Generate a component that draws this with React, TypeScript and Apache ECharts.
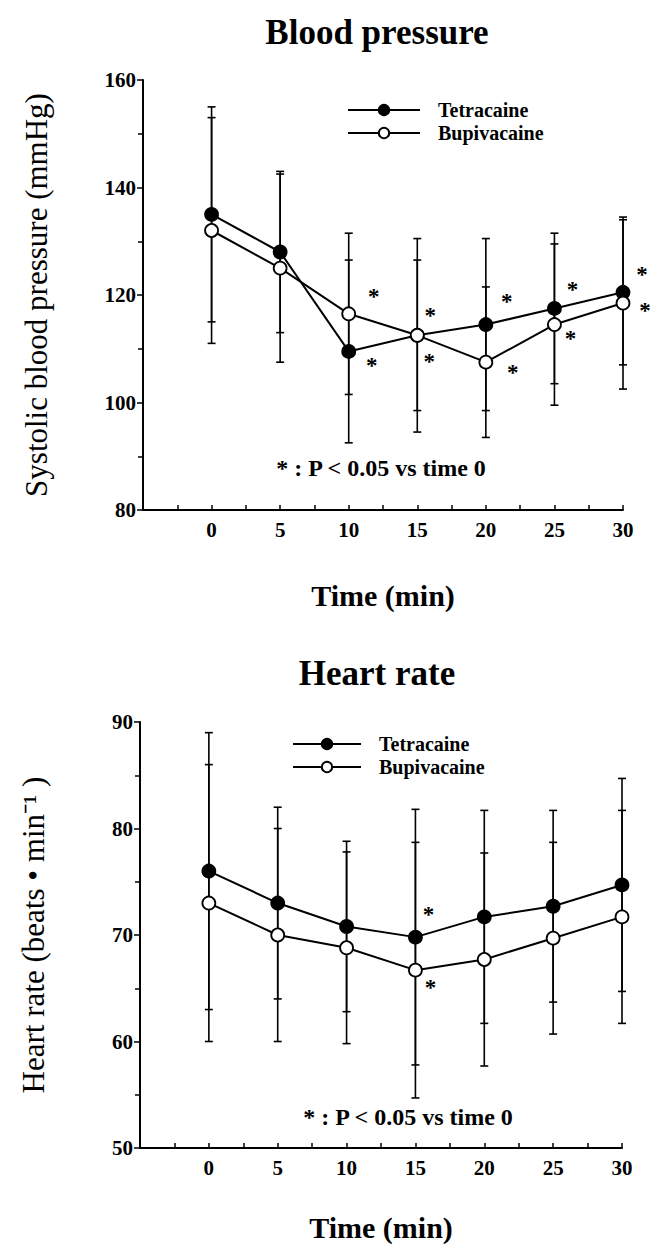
import React, { useEffect, useRef } from "react";
import * as echarts from "echarts";

const times = [0, 5, 10, 15, 20, 25, 30];
const xTickLabels = ["0", "5", "10", "15", "20", "25", "30"];

// Blood pressure (mmHg): mean and SD
const bpTet = [135, 128, 109.5, 112.5, 114.5, 117.5, 120.5];
const bpTetSD = [20, 15, 17, 18, 16, 14, 13.5];
const bpBup = [132, 125, 116.5, 112.5, 107.5, 114.5, 118.5];
const bpBupSD = [21, 17.5, 15, 14, 14, 15, 16];

// Heart rate (beats/min): mean and SD
const hrTet = [76, 73, 70.8, 69.8, 71.7, 72.7, 74.7];
const hrTetSD = [13, 9, 8, 12, 10, 9, 10];
const hrBup = [73, 70, 68.8, 66.7, 67.7, 69.7, 71.7];
const hrBupSD = [13, 10, 9, 12, 10, 9, 10];

// significance markers (true = P < 0.05 vs time 0)
const bpTetSig = [false, false, true, true, true, true, true];
const bpBupSig = [false, false, true, true, true, true, true];
const hrTetSig = [false, false, false, true, false, false, false];
const hrBupSig = [false, false, false, true, false, false, false];

// asterisk label offsets (px) from each point
const bpTetStarOff = [[0, 0], [0, 0], [23, 14], [12, 26], [21, -23], [18, -19], [19, -18]];
const bpBupStarOff = [[0, 0], [0, 0], [25, -17], [13, -20], [27, 10], [16, 14], [22, 7]];
const hrTetStarOff = [[0, 0], [0, 0], [0, 0], [13, -23], [0, 0], [0, 0], [0, 0]];
const hrBupStarOff = [[0, 0], [0, 0], [0, 0], [15, 17], [0, 0], [0, 0], [0, 0]];

const SERIF = "'Liberation Serif', 'Times New Roman', serif";

function lineSeries(name: string, vals: number[], sig: boolean[], offs: number[][], filled: boolean, idx: number) {
  return {
    name,
    type: "line",
    xAxisIndex: idx,
    yAxisIndex: idx,
    z: 5,
    symbol: "circle",
    symbolSize: 13,
    lineStyle: { color: "#000", width: 2 },
    itemStyle: { color: filled ? "#000" : "#fff", borderColor: "#000", borderWidth: 1.8 },
    data: times.map((t, i) => ({
      value: [t, vals[i]],
      label: sig[i]
        ? {
            show: true,
            formatter: "*",
            position: "inside",
            offset: offs[i],
            fontSize: 23,
            fontWeight: "bold",
            fontFamily: SERIF,
            color: "#000000",
            textBorderWidth: 0,
            textBorderColor: "#000000",
            textShadowBlur: 0,
          }
        : { show: false },
    })),
  };
}

function errSeries(name: string, vals: number[], sds: number[], idx: number) {
  return {
    name,
    type: "custom",
    xAxisIndex: idx,
    yAxisIndex: idx,
    z: 2,
    silent: true,
    encode: { x: 0, y: [1, 2] },
    data: times.map((t, i) => [t, vals[i] - sds[i], vals[i] + sds[i]]),
    renderItem: (params: any, api: any) => {
      const x = api.value(0);
      const lo = api.coord([x, api.value(1)]);
      const hi = api.coord([x, api.value(2)]);
      const w = 4;
      const st = { stroke: "#000", lineWidth: 1.6 };
      return {
        type: "group",
        children: [
          { type: "line", shape: { x1: lo[0], y1: lo[1], x2: hi[0], y2: hi[1] }, style: st },
          { type: "line", shape: { x1: lo[0] - w, y1: lo[1], x2: lo[0] + w, y2: lo[1] }, style: st },
          { type: "line", shape: { x1: hi[0] - w, y1: hi[1], x2: hi[0] + w, y2: hi[1] }, style: st },
        ],
      };
    },
  };
}

function xAxisDef(idx: number, nameGap: number) {
  return {
    gridIndex: idx,
    type: "value",
    min: -5,
    max: 30,
    interval: 5,
    axisLine: { onZero: false, lineStyle: { color: "#000", width: 2 } },
    axisTick: { inside: true, length: 5, lineStyle: { color: "#000", width: 1.5 } },
    minorTick: { show: true, splitNumber: 2, length: 5, lineStyle: { color: "#000", width: 1.5 } },
    splitLine: { show: false },
    axisLabel: {
      formatter: (v: number) => {
        const i = times.indexOf(v);
        return i >= 0 ? xTickLabels[i] : "";
      },
      fontFamily: SERIF,
      fontWeight: "bold",
      fontSize: 21,
      color: "#000",
      margin: 9,
    },
    name: "Time (min)",
    nameLocation: "middle",
    nameGap,
    nameTextStyle: { fontFamily: SERIF, fontWeight: "bold", fontSize: 30, color: "#000" },
  };
}

function yAxisDef(idx: number, min: number, max: number, interval: number, name: string) {
  return {
    gridIndex: idx,
    type: "value",
    min,
    max,
    interval,
    axisLine: { show: true, onZero: false, lineStyle: { color: "#000", width: 2 } },
    axisTick: { show: true, length: 6, lineStyle: { color: "#000", width: 1.5 } },
    minorTick: { show: true, splitNumber: 2, length: 5, lineStyle: { color: "#000", width: 1.5 } },
    splitLine: { show: false },
    axisLabel: { fontFamily: SERIF, fontWeight: "bold", fontSize: 21, color: "#000", margin: 7 },
    name,
    nameLocation: "middle",
    nameRotate: 90,
    nameGap: 91,
    nameTextStyle: { fontFamily: SERIF, fontSize: 31, color: "#000" },
  };
}

function legendDef(left: number, top: number, w: number) {
  return {
    data: ["Tetracaine", "Bupivacaine"],
    orient: "vertical",
    left,
    top,
    padding: 0,
    itemWidth: w,
    itemHeight: 13,
    itemGap: 3,
    selectedMode: false,
    textStyle: {
      fontFamily: SERIF,
      fontWeight: "bold",
      fontSize: 20,
      color: "#000",
      padding: [0, 0, 0, 13],
    },
  };
}

export default function App() {
  const ref = useRef<HTMLDivElement>(null);
  useEffect(() => {
    document.body.style.margin = "0";
    if (!ref.current) return;
    const chart = echarts.init(ref.current, null, { renderer: "svg" });
    chart.setOption({
      animation: false,
      backgroundColor: "#fff",
      grid: [
        { left: 143, top: 80, width: 480, height: 430 },
        { left: 140, top: 722, width: 482, height: 426 },
      ],
      xAxis: [xAxisDef(0, 70), xAxisDef(1, 64)],
      yAxis: [
        yAxisDef(0, 80, 160, 20, "Systolic blood pressure (mmHg)"),
        yAxisDef(1, 50, 90, 10, "Heart rate (beats \u2022 min\u207B\u00B9 )"),
      ],
      legend: [legendDef(347, 100, 72), legendDef(292, 734, 68)],
      graphic: [
        {
          type: "text",
          x: 377,
          y: 32,
          style: { text: "Blood pressure", font: `bold 35px ${SERIF}`, fill: "#000", textAlign: "center", textVerticalAlign: "middle" },
        },
        {
          type: "text",
          x: 377,
          y: 673,
          style: { text: "Heart rate", font: `bold 35px ${SERIF}`, fill: "#000", textAlign: "center", textVerticalAlign: "middle" },
        },
        {
          type: "text",
          x: 381,
          y: 468,
          style: { text: "* : P < 0.05 vs time 0", font: `bold 24px ${SERIF}`, fill: "#000", textAlign: "center", textVerticalAlign: "middle" },
        },
        {
          type: "text",
          x: 408,
          y: 1117,
          style: { text: "* : P < 0.05 vs time 0", font: `bold 24px ${SERIF}`, fill: "#000", textAlign: "center", textVerticalAlign: "middle" },
        },
      ],
      series: [
        errSeries("bpTetErr", bpTet, bpTetSD, 0),
        errSeries("bpBupErr", bpBup, bpBupSD, 0),
        lineSeries("Tetracaine", bpTet, bpTetSig, bpTetStarOff, true, 0),
        lineSeries("Bupivacaine", bpBup, bpBupSig, bpBupStarOff, false, 0),
        errSeries("hrTetErr", hrTet, hrTetSD, 1),
        errSeries("hrBupErr", hrBup, hrBupSD, 1),
        lineSeries("Tetracaine", hrTet, hrTetSig, hrTetStarOff, true, 1),
        lineSeries("Bupivacaine", hrBup, hrBupSig, hrBupStarOff, false, 1),
      ],
    });
    return () => chart.dispose();
  }, []);
  return <div ref={ref} style={{ width: 650, height: 1245 }} />;
}
